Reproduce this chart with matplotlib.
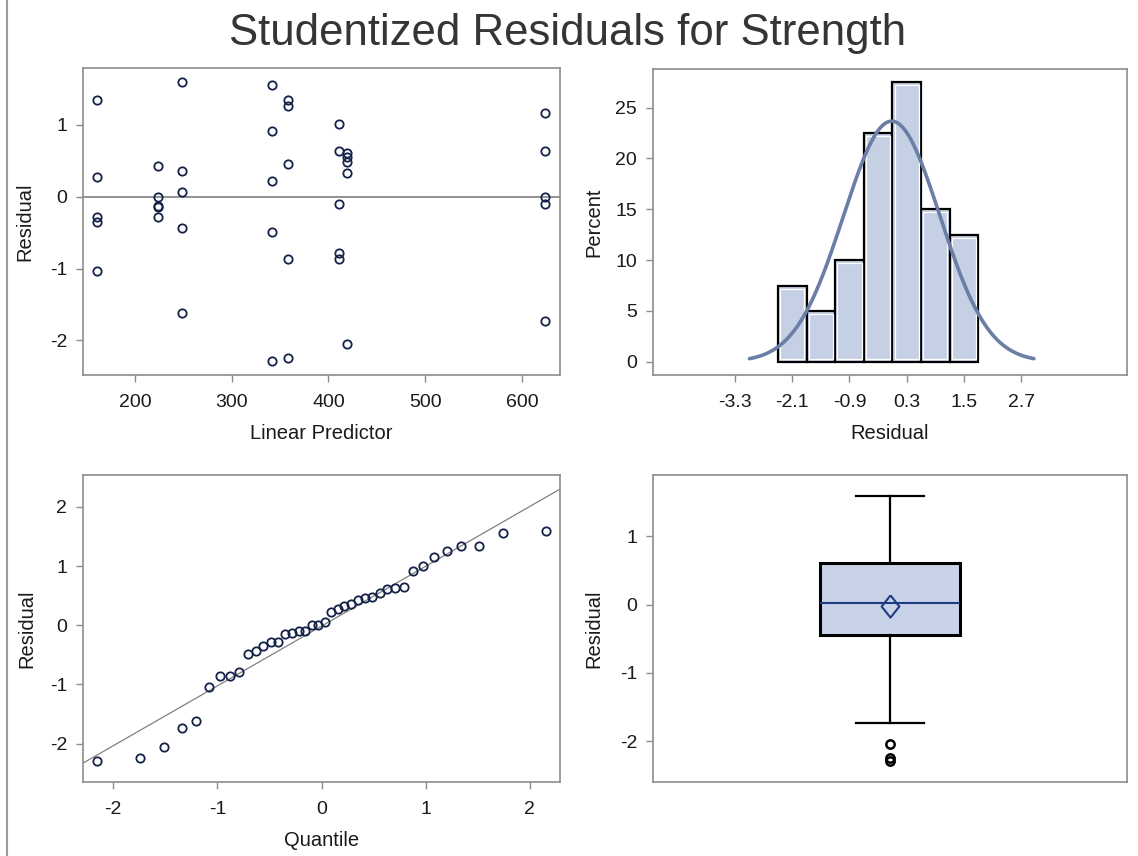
import numpy as np
import matplotlib
matplotlib.use("Agg")
import matplotlib.pyplot as plt
from matplotlib.lines import Line2D

# ---------------- data ----------------
predictor = [160.5, 160.5, 160.5, 160.5, 160.5,
             224.1, 224.1, 224.1, 224.1, 224.1,
             248.6, 248.6, 248.6, 248.6, 248.6,
             341.6, 341.6, 341.6, 341.6, 341.6,
             358.6, 358.6, 358.6, 358.6, 358.6,
             410.9, 410.9, 410.9, 410.9, 410.9,
             419.6, 419.6, 419.6, 419.6, 419.6,
             623.7, 623.7, 623.7, 623.7, 623.7]
residual = [1.34, 0.27, -0.28, -0.35, -1.04,
            0.43, 0.00, -0.13, -0.15, -0.28,
            1.59, 0.36, 0.06, -0.43, -1.62,
            1.56, 0.92, 0.22, -0.49, -2.29,
            1.34, 1.26, 0.46, -0.86, -2.25,
            1.01, 0.64, -0.10, -0.79, -0.86,
            0.61, 0.55, 0.48, 0.33, -2.05,
            1.16, 0.63, 0.00, -0.10, -1.73]
normal_quantiles = [-2.157, -1.746, -1.512, -1.340, -1.201, -1.081, -0.976, -0.880,
                    -0.792, -0.709, -0.631, -0.557, -0.485, -0.417, -0.349, -0.284,
                    -0.220, -0.156, -0.094, -0.031, 0.031, 0.094, 0.156, 0.220,
                    0.284, 0.349, 0.417, 0.485, 0.557, 0.631, 0.709, 0.792,
                    0.880, 0.976, 1.081, 1.201, 1.340, 1.512, 1.746, 2.157]

pred_ticks = [200, 300, 400, 500, 600]
resid_ticks = [-2, -1, 0, 1]
hist_ticks = [-3.3, -2.1, -0.9, 0.3, 1.5, 2.7]
hist_tick_labels = ["-3.3", "-2.1", "-0.9", "0.3", "1.5", "2.7"]
pct_ticks = [0, 5, 10, 15, 20, 25]
qq_ticks = [-2, -1, 0, 1, 2]
title = "Studentized Residuals for Strength"

# ---------------- style ----------------
plt.rcParams['font.family'] = ['Liberation Sans', 'DejaVu Sans']
plt.rcParams['axes.unicode_minus'] = False
TICK_FS = 14
LAB_FS = 14.5
SPINE = '#8c8c8c'
TXT = '#1a1a1a'
MARK = '#15234a'

fig = plt.figure(figsize=(11.38, 8.56), dpi=100)
W, H = 1138.0, 856.0


def axes_px(left, top, right, bottom):
    return fig.add_axes([left / W, 1 - bottom / H, (right - left) / W, (bottom - top) / H])


def style(ax):
    for s in ax.spines.values():
        s.set_color(SPINE)
        s.set_linewidth(1.2)
    ax.tick_params(direction='out', length=5, width=1, color=SPINE,
                   labelsize=TICK_FS, labelcolor=TXT)
    ax.tick_params(axis='x', pad=8.5)
    ax.tick_params(axis='y', pad=6.5)


def labels(ax, xl, yl, ylx, xly=-0.19):
    if xl:
        ax.set_xlabel(xl, fontsize=LAB_FS, color=TXT)
        ax.xaxis.label.set_va('center')
        ax.xaxis.set_label_coords(0.5, xly)
    ax.set_ylabel(yl, fontsize=LAB_FS, color=TXT)
    ax.yaxis.label.set_va('center')
    ax.yaxis.set_label_coords(ylx, 0.5)


res = np.array(residual)
mean = res.mean()
sd = res.std(ddof=1)

# ---------------- top-left: residual vs predictor ----------------
ax1 = axes_px(83, 68, 560, 375)
style(ax1)
ax1.axhline(0, color='#7f7f7f', lw=1.2, zorder=1)
ax1.plot(predictor, residual, ls='none', marker='o', ms=6, mfc='none',
         mec=MARK, mew=1.3, zorder=3)
ax1.set_xlim(146.3, 639.3)
ax1.set_ylim(-2.48, 1.79)
ax1.set_xticks(pred_ticks)
ax1.set_yticks(resid_ticks)
labels(ax1, "Linear Predictor", "Residual", -0.1216)

# ---------------- top-right: histogram ----------------
ax2 = axes_px(653, 69, 1127, 375)
style(ax2)
edges = np.round(np.arange(-2.4, 1.8001, 0.6), 6)
counts, _ = np.histogram(res, bins=edges)
pct = counts / len(res) * 100
centers = (edges[:-1] + edges[1:]) / 2
ax2.bar(centers, pct, width=0.6, color='#c5d0e4', edgecolor='black', lw=1.6, zorder=2)
ax2.bar(centers, pct - 0.6, bottom=0.3, width=0.51, color='none',
        edgecolor='white', lw=0.9, zorder=2.5)
xs = np.linspace(mean - 2.95 * sd, mean + 2.95 * sd, 300)
ys = 100 * 0.6 * np.exp(-0.5 * ((xs - mean) / sd) ** 2) / (sd * np.sqrt(2 * np.pi))
ax2.plot(xs, ys, color='#6b7ea6', lw=2.6, zorder=3, solid_capstyle='round')
ax2.set_xlim(-5.02, 4.92)
ax2.set_ylim(-1.3, 28.8)
ax2.set_xticks(hist_ticks)
ax2.set_xticklabels(hist_tick_labels)
ax2.set_yticks(pct_ticks)
labels(ax2, "Residual", "Percent", -0.1245)

# ---------------- bottom-left: QQ plot ----------------
ax3 = axes_px(83, 475, 560, 782)
style(ax3)
ax3.set_xlim(-2.29, 2.29)
ax3.set_ylim(-2.65, 2.54)
lx = np.array(ax3.get_xlim())
ax3.plot(lx, mean + sd * lx, color='#808080', lw=0.9, zorder=1)
ax3.plot(normal_quantiles, np.sort(res), ls='none', marker='o', ms=6, mfc='none',
         mec=MARK, mew=1.3, zorder=3)
ax3.set_xticks(qq_ticks)
ax3.set_yticks(qq_ticks)
labels(ax3, "Quantile", "Residual", -0.117)

# ---------------- bottom-right: box plot ----------------
ax4 = axes_px(653, 475, 1127, 782)
style(ax4)
ax4.boxplot(res, positions=[0], widths=0.588, whis=1.5, patch_artist=True,
            capwidths=0.288,
            boxprops=dict(facecolor='#c8d3e8', edgecolor='black', lw=2.2),
            medianprops=dict(color='#1f3b86', lw=1.5),
            whiskerprops=dict(color='black', lw=1.6),
            capprops=dict(color='black', lw=1.6),
            flierprops=dict(marker='o', mfc='none', mec='black', ms=6, mew=1.8))
diamond = [(0, 1), (0.8, 0), (0, -1), (-0.8, 0), (0, 1)]
ax4.plot([0], [mean], ls='none', marker=diamond, ms=16, mfc='none',
         mec='#1f3b86', mew=1.5, zorder=4)
ax4.set_xlim(-1, 1)
ax4.set_ylim(-2.60, 1.90)
ax4.set_xticks([])
ax4.set_yticks(resid_ticks)
labels(ax4, None, "Residual", -0.1245)

# ---------------- title & border ----------------
fig.text(0.499, 0.961, title, ha='center', va='center', fontsize=31.5, color='#353535')
fig.add_artist(Line2D([7 / W, 7 / W], [0, 1], transform=fig.transFigure,
                      color='#9a9a9a', lw=1.5))

fig.savefig("out.png", dpi=100)
